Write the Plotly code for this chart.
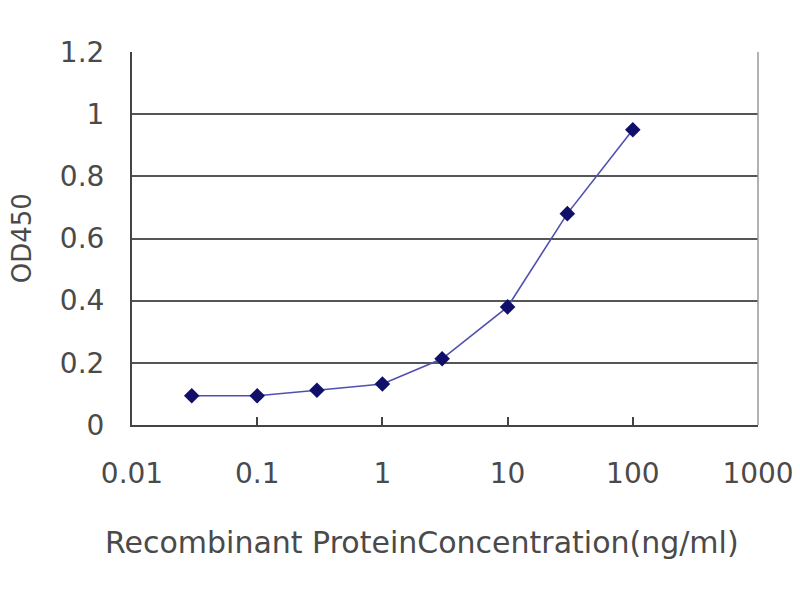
import plotly.graph_objects as go

concentration = [0.03, 0.1, 0.3, 1, 3, 10, 30, 100]
od450 = [0.094, 0.094, 0.112, 0.132, 0.213, 0.38, 0.68, 0.95]
x_ticks = [0.01, 0.1, 1, 10, 100, 1000]
x_tick_labels = ["0.01", "0.1", "1", "10", "100", "1000"]
y_ticks = [0, 0.2, 0.4, 0.6, 0.8, 1, 1.2]
y_tick_labels = ["0", "0.2", "0.4", "0.6", "0.8", "1", "1.2"]
x_title = "Recombinant ProteinConcentration(ng/ml)"
y_title = "OD450"

fig = go.Figure()
fig.add_trace(go.Scatter(
    x=concentration, y=od450, mode="lines+markers",
    line=dict(color="#5050b0", width=1.6),
    marker=dict(symbol="diamond", size=12, color="#10106a"),
    showlegend=False,
))

font_main = "DejaVu Sans, sans-serif"
txt = "#4a4a4a"
fig.update_layout(
    width=800, height=600,
    margin=dict(l=124, r=50, t=44, b=183),
    paper_bgcolor="white", plot_bgcolor="white",
    font=dict(family=font_main, color=txt, size=28),
    xaxis=dict(
        type="log", range=[-2, 3], automargin=False,
        tickvals=x_ticks, ticktext=x_tick_labels,
        showgrid=False, showline=True, linecolor="#444444", linewidth=2,
        mirror=False, ticks="inside", ticklen=8, tickcolor="#444444", tickwidth=2,
        tickfont=dict(size=28, color=txt), ticklabelstandoff=22,
        zeroline=False,
    ),
    yaxis=dict(
        range=[0, 1.2], automargin=False,
        tickvals=y_ticks, ticktext=y_tick_labels,
        showgrid=True, gridcolor="#555555", gridwidth=2,
        showline=True, linecolor="#444444", linewidth=2,
        ticks="", tickfont=dict(size=28, color=txt), ticklabelstandoff=20,
        zeroline=False,
    ),
    annotations=[
        dict(text=x_title, xref="paper", yref="paper", x=0.463, y=-0.316,
             xanchor="center", yanchor="middle", showarrow=False,
             font=dict(size=30, color=txt, family=font_main)),
        dict(text=y_title, xref="paper", yref="paper", x=-0.176, y=0.5,
             xanchor="center", yanchor="middle", showarrow=False, textangle=-90,
             font=dict(size=26, color=txt, family=font_main)),
    ],
)
fig.add_shape(type="line", xref="paper", yref="paper", x0=1, x1=1, y0=0, y1=1,
              line=dict(color="#999999", width=1.5))

fig.write_html("out.html")
